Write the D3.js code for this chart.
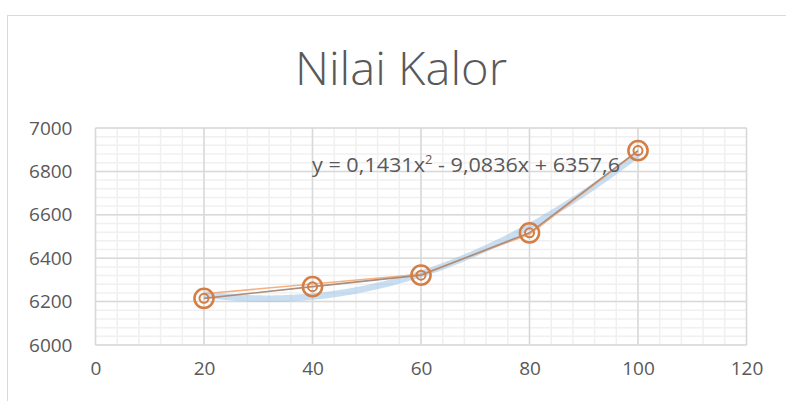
<!DOCTYPE html>
<html><head><meta charset="utf-8">
<script src="https://cdn.jsdelivr.net/npm/d3@7"></script>
<style>body{margin:0;background:#fff}svg{display:block}text{font-family:"Open Sans",sans-serif;fill:#595959}</style>
</head><body><svg id="c" width="786" height="401"></svg>
<script>
const xValues = [20, 40, 60, 80, 100];
const seriesMain = [6215, 6269, 6322, 6517, 6896];
const seriesLight = [6236, 6281, 6326, 6510, 6893];
const trendCoef = [0.1431, -9.0836, 6357.6];
const xTicks = [0, 20, 40, 60, 80, 100, 120];
const yTicks = [6000, 6200, 6400, 6600, 6800, 7000];
const title = "Nilai Kalor";

const svg = d3.select("#c");
svg.append("rect").attr("x",7.5).attr("y",15.5).attr("width",820).attr("height",420)
  .attr("fill","none").attr("stroke","#d9d9d9");

const x = d3.scaleLinear().domain([0,120]).range([95.5,746.5]);
const y = d3.scaleLinear().domain([6000,7000]).range([345,128]);

const g = svg.append("g");
g.selectAll(".mx").data(d3.range(0,121,4)).join("line")
  .attr("x1",d=>x(d)).attr("x2",d=>x(d)).attr("y1",y(6000)).attr("y2",y(7000))
  .attr("stroke","#f0f0f0").attr("stroke-width",1.5);
g.selectAll(".my").data(d3.range(6000,7001,40)).join("line")
  .attr("y1",d=>y(d)).attr("y2",d=>y(d)).attr("x1",x(0)).attr("x2",x(120))
  .attr("stroke","#f0f0f0").attr("stroke-width",1.5);
g.selectAll(".Mx").data(xTicks).join("line")
  .attr("x1",d=>x(d)).attr("x2",d=>x(d)).attr("y1",y(6000)).attr("y2",y(7000))
  .attr("stroke","#d9d9d9").attr("stroke-width",1.5);
g.selectAll(".My").data(yTicks).join("line")
  .attr("y1",d=>y(d)).attr("y2",d=>y(d)).attr("x1",x(0)).attr("x2",x(120))
  .attr("stroke","#d9d9d9").attr("stroke-width",1.5);

const xa = svg.append("g").attr("transform",`translate(0,${y(6000)})`)
  .call(d3.axisBottom(x).tickValues(xTicks).tickFormat(d3.format("d")).tickSize(0).tickPadding(17));
const ya = svg.append("g").attr("transform",`translate(${x(0)},0)`)
  .call(d3.axisLeft(y).tickValues(yTicks).tickFormat(d3.format("d")).tickSize(0).tickPadding(23));
[xa,ya].forEach(a=>{a.select(".domain").remove();
  a.selectAll("text").attr("font-size",19).attr("font-family","Open Sans").attr("fill","#595959");});

const tx = d3.range(20,100.01,1);
const f = v => trendCoef[0]*v*v + trendCoef[1]*v + trendCoef[2];
svg.append("path").datum(tx)
  .attr("d",d3.line().x(d=>x(d)).y(d=>y(f(d))).curve(d3.curveBasis))
  .attr("fill","none").attr("stroke","#9dc3e6").attr("stroke-opacity",0.55).attr("stroke-width",6.5);

const line = d3.line().x((d,i)=>x(xValues[i])).y(d=>y(d));
svg.append("path").datum(seriesLight).attr("d",line)
  .attr("fill","none").attr("stroke","#f4b183").attr("stroke-width",1.6);
svg.append("path").datum(seriesMain).attr("d",line)
  .attr("fill","none").attr("stroke","#a98d7e").attr("stroke-width",1.6);

svg.selectAll(".o").data(seriesMain).join("circle")
  .attr("cx",(d,i)=>x(xValues[i])).attr("cy",d=>y(d)).attr("r",9.6)
  .attr("fill","none").attr("stroke","#d47d44").attr("stroke-width",2.5);
svg.selectAll(".i").data(seriesMain).join("circle")
  .attr("cx",(d,i)=>x(xValues[i])).attr("cy",d=>y(d)).attr("r",4.5)
  .attr("fill","none").attr("stroke","#d47d44").attr("stroke-width",2);

svg.append("text").attr("x",401).attr("y",85).attr("text-anchor","middle")
  .attr("font-size",46).attr("font-weight",300).attr("textLength",212).attr("lengthAdjust","spacingAndGlyphs")
  .text(title);

const eq = svg.append("text").attr("x",312).attr("y",172).attr("font-size",20)
  .attr("textLength",308).attr("lengthAdjust","spacingAndGlyphs");
eq.append("tspan").text("y = 0,1431x");
eq.append("tspan").attr("font-size",12).attr("dy",-8).text("2");
eq.append("tspan").attr("dy",8).text(" - 9,0836x + 6357,6");
</script></body></html>
